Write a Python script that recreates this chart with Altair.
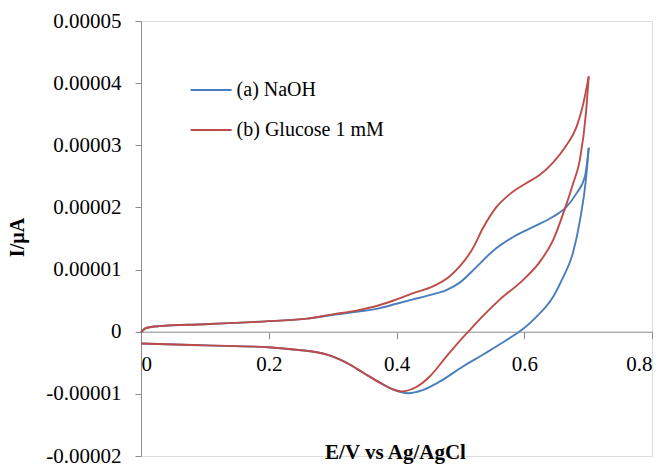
import altair as alt
import pandas as pd

# Series names
series_names = ["(a) NaOH", "(b) Glucose 1 mM"]
series_colors = ["#4A7EBB", "#BE4B48"]

# (a) NaOH - forward (anodic) scan
naoh_fwd_E = [0.000, 0.008, 0.029, 0.10, 0.20, 0.26, 0.30, 0.337, 0.374, 0.40, 0.426, 0.452,
              0.478, 0.499, 0.525, 0.551, 0.582, 0.619, 0.645, 0.666, 0.682, 0.695, 0.701]
naoh_fwd_I = [-0.01e-5, 0.06e-5, 0.09e-5, 0.12e-5, 0.17e-5, 0.21e-5, 0.27e-5, 0.32e-5, 0.38e-5,
              0.45e-5, 0.52e-5, 0.59e-5, 0.67e-5, 0.79e-5, 1.04e-5, 1.30e-5, 1.52e-5, 1.71e-5,
              1.85e-5, 2.01e-5, 2.23e-5, 2.50e-5, 2.96e-5]
# (a) NaOH - reverse (cathodic) scan
naoh_rev_E = [0.701, 0.697, 0.687, 0.676, 0.661, 0.645, 0.619, 0.600, 0.585, 0.567, 0.535, 0.504,
              0.468, 0.441, 0.418, 0.395, 0.374, 0.348, 0.322, 0.31, 0.295, 0.275, 0.243, 0.199,
              0.102, 0.000]
naoh_rev_I = [2.96e-5, 2.49e-5, 1.78e-5, 1.26e-5, 0.88e-5, 0.56e-5, 0.24e-5, 0.06e-5, -0.05e-5,
              -0.17e-5, -0.37e-5, -0.56e-5, -0.80e-5, -0.94e-5, -0.99e-5, -0.93e-5, -0.82e-5,
              -0.66e-5, -0.50e-5, -0.44e-5, -0.38e-5, -0.33e-5, -0.29e-5, -0.25e-5, -0.22e-5,
              -0.19e-5]

# (b) Glucose 1 mM - forward scan
glu_fwd_E = [0.000, 0.008, 0.029, 0.10, 0.20, 0.26, 0.30, 0.337, 0.374, 0.40, 0.426, 0.457,
             0.483, 0.499, 0.520, 0.535, 0.556, 0.577, 0.603, 0.624, 0.645, 0.666, 0.682, 0.692,
             0.701]
glu_fwd_I = [-0.01e-5, 0.06e-5, 0.09e-5, 0.12e-5, 0.17e-5, 0.21e-5, 0.28e-5, 0.34e-5, 0.43e-5,
             0.52e-5, 0.62e-5, 0.73e-5, 0.89e-5, 1.05e-5, 1.35e-5, 1.66e-5, 2.00e-5, 2.21e-5,
             2.39e-5, 2.52e-5, 2.72e-5, 3.00e-5, 3.30e-5, 3.65e-5, 4.11e-5]
# (b) Glucose 1 mM - reverse scan
glu_rev_E = [0.701, 0.697, 0.687, 0.676, 0.663, 0.645, 0.624, 0.598, 0.562, 0.535, 0.515, 0.504,
             0.478, 0.452, 0.431, 0.408, 0.395, 0.374, 0.348, 0.322, 0.31, 0.295, 0.275, 0.243,
             0.199, 0.102, 0.000]
glu_rev_I = [4.11e-5, 3.56e-5, 2.76e-5, 2.37e-5, 1.96e-5, 1.47e-5, 1.12e-5, 0.83e-5, 0.52e-5,
             0.25e-5, 0.03e-5, -0.09e-5, -0.40e-5, -0.72e-5, -0.89e-5, -0.96e-5, -0.93e-5,
             -0.82e-5, -0.66e-5, -0.50e-5, -0.44e-5, -0.38e-5, -0.33e-5, -0.29e-5, -0.25e-5,
             -0.22e-5, -0.19e-5]

# Axis tick values
x_ticks = [0, 0.2, 0.4, 0.6, 0.8]
y_ticks = [-0.00002, -0.00001, 0, 0.00001, 0.00002, 0.00003, 0.00004, 0.00005]


def branch_frame(name, branch, E, I):
    return pd.DataFrame({"E": E, "I": I, "series": name, "branch": branch})


df_naoh = pd.concat([
    branch_frame(series_names[0], "fwd", naoh_fwd_E, naoh_fwd_I),
    branch_frame(series_names[0], "rev", naoh_rev_E, naoh_rev_I),
])
df_glu = pd.concat([
    branch_frame(series_names[1], "fwd", glu_fwd_E, glu_fwd_I),
    branch_frame(series_names[1], "rev", glu_rev_E, glu_rev_I),
])

FONT = "Liberation Serif"

x_enc = alt.X(
    "E:Q",
    scale=alt.Scale(domain=[0, 0.8], nice=False, zero=False),
    axis=alt.Axis(
        values=x_ticks,
        labelExpr="datum.value == 0 ? '0' : format(datum.value, '.1f')",
        offset=-124.3,
        grid=False,
        domainColor="#8c8c8c",
        tickColor="#8c8c8c",
        tickSize=7,
        labelPadding=15,
        labelFont=FONT,
        labelFontSize=21,
        labelColor="#000000",
        title="E/V  vs Ag/AgCl",
        titleFont=FONT,
        titleFontSize=21,
        titleFontWeight="bold",
        titleColor="#000000",
        titleX=254,
        titleY=127,
        titleBaseline="alphabetic",
    ),
)

y_enc = alt.Y(
    "I:Q",
    scale=alt.Scale(domain=[-0.00002, 0.00005], nice=False, zero=False),
    axis=alt.Axis(
        values=y_ticks,
        labelExpr="datum.value == 0 ? '0' : (datum.value < 0 ? '-' + format(-datum.value, '.5f') : format(datum.value, '.5f'))",
        grid=False,
        domainColor="#8c8c8c",
        tickColor="#8c8c8c",
        tickSize=6,
        labelPadding=14,
        labelFont=FONT,
        labelFontSize=21,
        labelColor="#000000",
        title="I/µA",
        titleFont=FONT,
        titleFontSize=20,
        titleFontWeight="bold",
        titleColor="#000000",
        titleX=-123.5,
        titleY=216,
        titleBaseline="middle",
        titleAngle=270,
    ),
)

color_enc = alt.Color(
    "series:N",
    scale=alt.Scale(domain=series_names, range=series_colors),
    legend=alt.Legend(
        title=None,
        orient="none",
        legendX=48.6,
        legendY=47.5,
        padding=0,
        symbolType="stroke",
        symbolSize=1681,
        symbolStrokeWidth=2,
        rowPadding=8,
        labelOffset=4,
        labelFont=FONT,
        labelFontSize=20,
        labelColor="#000000",
        labelLimit=400,
    ),
)

line_naoh = alt.Chart(df_naoh).mark_line(strokeWidth=1.9, interpolate="monotone").encode(
    x=x_enc, y=y_enc, color=color_enc, detail="branch:N"
)
line_glu = alt.Chart(df_glu).mark_line(strokeWidth=1.9, interpolate="monotone").encode(
    x=x_enc, y=y_enc, color=color_enc, detail="branch:N"
)

chart = (
    alt.layer(line_naoh, line_glu)
    .properties(
        width=511,
        height=435,
        autosize=alt.AutoSizeParams(type="none"),
        padding={"left": 141, "top": 21, "right": 15, "bottom": 8},
    )
    .configure_view(stroke=None)
    .configure(background="#ffffff")
)

chart.save("out.html", embed_options={"renderer": "svg", "actions": False})
